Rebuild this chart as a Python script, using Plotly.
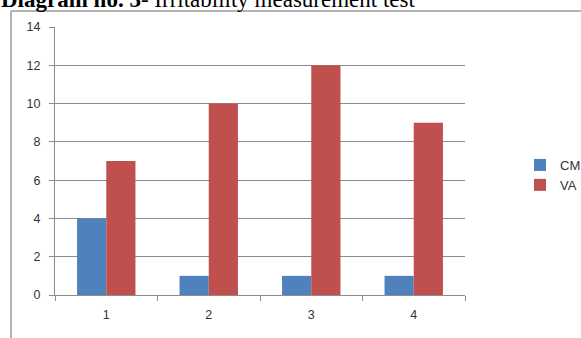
import plotly.graph_objects as go

# Irritability measurement scores per test
categories = ["1", "2", "3", "4"]
cm_values = [4, 1, 1, 1]
va_values = [7, 10, 12, 9]
y_ticks = [0, 2, 4, 6, 8, 10, 12, 14]

W, H = 581, 338
L, R, T, B = 55, 116, 27, 43
pw, ph = W - L - R, H - T - B

def px_x(p):
    return (p - L) / pw

def px_y(p):
    return (H - B - p) / ph

axis_grey = "#8c8c8c"
tick_font = dict(family="Liberation Sans", size=12.5, color="#333333")

fig = go.Figure()
fig.add_bar(name="CM", x=categories, y=cm_values, marker=dict(color="#4F81BD", line=dict(width=0)))
fig.add_bar(name="VA", x=categories, y=va_values, marker=dict(color="#C0504D", line=dict(width=0)))

fig.update_layout(
    width=W, height=H,
    margin=dict(l=L, r=R, t=T, b=B, autoexpand=False),
    paper_bgcolor="white", plot_bgcolor="white",
    barmode="group", bargap=0.43, bargroupgap=0,
    showlegend=True,
    legend=dict(xref="container", yref="container", x=520 / W, y=1 - 175 / H,
                xanchor="left", yanchor="middle",
                font=dict(family="Liberation Sans", size=13, color="#333333"),
                itemwidth=30, tracegroupgap=0, bgcolor="rgba(0,0,0,0)"),
    xaxis=dict(type="category", showline=True, linecolor=axis_grey, linewidth=1,
               ticks="outside", tickson="boundaries", ticklen=5, tickcolor=axis_grey,
               showgrid=False, tickfont=tick_font, ticklabelstandoff=8),
    yaxis=dict(range=[0, 14], tickvals=y_ticks, showline=True, linecolor=axis_grey,
               linewidth=1, ticks="outside", ticklen=5, tickcolor=axis_grey,
               showgrid=True, gridcolor=axis_grey, gridwidth=1, zeroline=False,
               tickfont=tick_font, ticklabelstandoff=6),
    shapes=[
        dict(type="line", xref="paper", yref="paper", x0=px_x(11), x1=px_x(W + 5),
             y0=px_y(11), y1=px_y(11), line=dict(color="#9a9a9a", width=1.5)),
        dict(type="line", xref="paper", yref="paper", x0=px_x(11), x1=px_x(11),
             y0=px_y(11), y1=px_y(H + 5), line=dict(color="#9a9a9a", width=1.5)),
    ],
    annotations=[
        dict(xref="paper", yref="paper", x=px_x(-1), y=px_y(14), xanchor="left", yanchor="bottom",
             showarrow=False,
             text="<b>Diagram no. 3</b>- Irritability measurement test",
             font=dict(family="Liberation Serif", size=23, color="black")),
    ],
)

fig.write_html("out.html")
